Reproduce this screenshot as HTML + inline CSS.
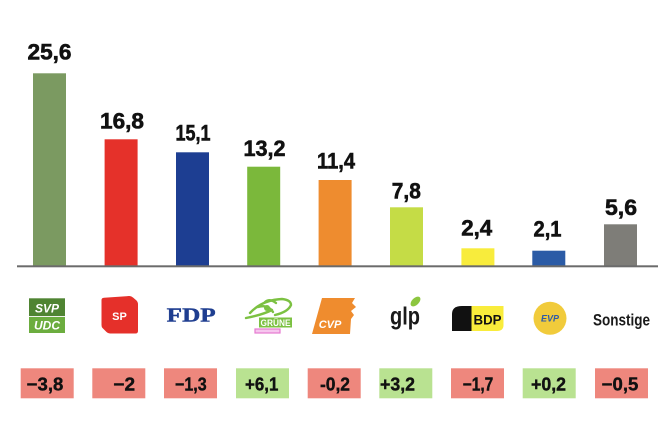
<!DOCTYPE html>
<html><head><meta charset="utf-8">
<style>
html,body{margin:0;padding:0;background:#fff;}
svg{display:block;}
text{font-family:"Liberation Sans",sans-serif;}
</style></head>
<body>
<svg width="670" height="429" viewBox="0 0 670 429" xmlns="http://www.w3.org/2000/svg">
<rect width="670" height="429" fill="#fff"/>
<!-- bars -->
<rect x="33" y="73.3" width="33" height="192.7" fill="#7b9a61"/>
<rect x="104.6" y="139.3" width="33" height="126.7" fill="#e5312a"/>
<rect x="176" y="152.3" width="33" height="113.7" fill="#1d3e92"/>
<rect x="247.2" y="166.7" width="33" height="99.3" fill="#7bb83b"/>
<rect x="318.6" y="180" width="33" height="86" fill="#ee8c2f"/>
<rect x="390" y="207.3" width="33" height="58.7" fill="#c5dc46"/>
<rect x="461.4" y="248.3" width="33" height="17.7" fill="#f8ec3c"/>
<rect x="532.3" y="250.7" width="33" height="15.3" fill="#2b5ba6"/>
<rect x="604" y="224.3" width="33" height="41.7" fill="#7e7d78"/>
<!-- baseline -->
<rect x="17" y="265.3" width="641" height="2" fill="#6b6b6b"/>
<!-- value labels -->
<g font-size="22.5" font-weight="bold" fill="#111" stroke="#111" stroke-width="0.6" text-anchor="middle">
<text x="49.5" y="59.5" textLength="44" lengthAdjust="spacingAndGlyphs">25,6</text>
<text x="122" y="128.5" textLength="44" lengthAdjust="spacingAndGlyphs">16,8</text>
<text x="193" y="140.5" textLength="35" lengthAdjust="spacingAndGlyphs">15,1</text>
<text x="264.5" y="156" textLength="42" lengthAdjust="spacingAndGlyphs">13,2</text>
<text x="336" y="168.5" textLength="38" lengthAdjust="spacingAndGlyphs">11,4</text>
<text x="406.3" y="198.3" textLength="29" lengthAdjust="spacingAndGlyphs">7,8</text>
<text x="476.7" y="235.7" textLength="31" lengthAdjust="spacingAndGlyphs">2,4</text>
<text x="547.5" y="236.7" textLength="28" lengthAdjust="spacingAndGlyphs">2,1</text>
<text x="621" y="215" textLength="32" lengthAdjust="spacingAndGlyphs">5,6</text>
</g>
<!-- logos -->
<!-- SVP -->
<rect x="29" y="298.3" width="36" height="17.8" fill="#4f8432"/>
<rect x="29" y="317" width="36" height="16" fill="#6cad3f"/>
<text x="47" y="312.5" font-size="12" font-weight="bold" font-style="italic" fill="#fff" text-anchor="middle">SVP</text>
<text x="47" y="329.5" font-size="12" font-weight="bold" font-style="italic" fill="#fff" text-anchor="middle">UDC</text>
<!-- SP -->
<path d="M101.5,300 Q101.5,298 104,297.8 L129,296 Q131,295.8 133,297.5 L136.5,300.5 Q138,302 138,304.5 L138,331 Q138,333.5 135.5,333.5 L110,333.5 Q108,333.5 106.5,332 L102.5,328 Q101.5,327 101.5,325 Z" fill="#e5302a"/>
<text x="119.5" y="320" font-size="11" font-weight="bold" fill="#fff" text-anchor="middle">SP</text>
<!-- FDP -->
<text x="166.7" y="321.7" font-size="20" font-weight="bold" fill="#1f3e90" stroke="#1f3e90" stroke-width="0.4" textLength="49" lengthAdjust="spacingAndGlyphs" style="font-family:'Liberation Serif',serif">FDP</text>
<!-- Gruene -->
<g fill="none" stroke="#7cc142" stroke-width="2.4" stroke-linecap="round">
<path d="M246,318 Q262,315 272,310"/>
<path d="M250,313 Q262,300 282,299 Q291,300 291,305 Q288,312 275,315"/>
<path d="M258,307 Q268,304 273,312"/>
<path d="M265,302 Q270,298 276,303"/>
</g>
<circle cx="267" cy="308" r="3" fill="#7cc142"/>
<rect x="259" y="317.5" width="33" height="10" fill="#7cc142"/>
<text x="275.5" y="326" font-size="9" font-weight="bold" fill="#fff" text-anchor="middle" textLength="30" lengthAdjust="spacingAndGlyphs">GRÜNE</text>
<rect x="255" y="329" width="25" height="4" fill="#f6c6ee" stroke="#e57ad0" stroke-width="1.2"/>
<!-- CVP -->
<path d="M322,298 L355,298 L352,303 L356,307 L351,311 L354,315 L351,319 L350,334 L312,334 Z" fill="#ef8c2e"/>
<text x="330" y="328" font-size="11" font-weight="bold" font-style="italic" fill="#fff" text-anchor="middle">CVP</text>
<!-- glp -->
<ellipse cx="415.5" cy="301.5" rx="3.5" ry="6" transform="rotate(45 415.5 301.5)" fill="#8cc63f"/>
<text x="390" y="324.3" font-size="25" font-weight="bold" fill="#1a1a1a" textLength="30" lengthAdjust="spacingAndGlyphs">glp</text>
<!-- BDP -->
<path d="M452,331 L452,314 Q452,306 462,306 L472,306 L472,331 Z" fill="#111"/>
<path d="M471.5,306 L503.5,306 L503.5,325 Q503.5,331 497,331 L471.5,331 Z" fill="#f9ec3b"/>
<text x="487.5" y="324.5" font-size="13.5" font-weight="bold" fill="#111" text-anchor="middle" textLength="28" lengthAdjust="spacingAndGlyphs">BDP</text>
<!-- EVP -->
<circle cx="550" cy="318.3" r="16.5" fill="#f1cb3b"/>
<text x="550" y="321.5" font-size="9" font-weight="bold" font-style="italic" fill="#2e5aa8" text-anchor="middle">EVP</text>
<!-- Sonstige -->
<text x="593" y="325.7" font-size="17" font-weight="bold" fill="#1a1a1a" textLength="57" lengthAdjust="spacingAndGlyphs">Sonstige</text>
<!-- change boxes -->
<g>
<rect x="20.7" y="368.3" width="53" height="30" fill="#ee877d"/>
<rect x="92.3" y="368.3" width="53" height="30" fill="#ee877d"/>
<rect x="164" y="368.3" width="53" height="30" fill="#ee877d"/>
<rect x="236" y="368.3" width="53" height="30" fill="#b9e291"/>
<rect x="307.7" y="368.3" width="53" height="30" fill="#ee877d"/>
<rect x="379.3" y="368.3" width="53" height="30" fill="#b9e291"/>
<rect x="451" y="368.3" width="53" height="30" fill="#ee877d"/>
<rect x="522.7" y="368.3" width="53" height="30" fill="#b9e291"/>
<rect x="595" y="368.3" width="53" height="30" fill="#ee877d"/>
</g>
<g font-size="18.5" font-weight="bold" fill="#111" stroke="#111" stroke-width="0.4" text-anchor="middle">
<text x="45" y="390.5" textLength="36.6" lengthAdjust="spacingAndGlyphs">−3,8</text>
<text x="124.2" y="390.5" textLength="21.7" lengthAdjust="spacingAndGlyphs">−2</text>
<text x="190.8" y="390.5" textLength="31.7" lengthAdjust="spacingAndGlyphs">−1,3</text>
<text x="261.7" y="390.5" textLength="33.3" lengthAdjust="spacingAndGlyphs">+6,1</text>
<text x="335" y="390.5" textLength="30" lengthAdjust="spacingAndGlyphs">-0,2</text>
<text x="397.5" y="390.5" textLength="35" lengthAdjust="spacingAndGlyphs">+3,2</text>
<text x="478" y="390.5" textLength="30.6" lengthAdjust="spacingAndGlyphs">−1,7</text>
<text x="548.5" y="390.5" textLength="35" lengthAdjust="spacingAndGlyphs">+0,2</text>
<text x="620" y="390.5" textLength="36.6" lengthAdjust="spacingAndGlyphs">−0,5</text>
</g>
</svg>
</body></html>
